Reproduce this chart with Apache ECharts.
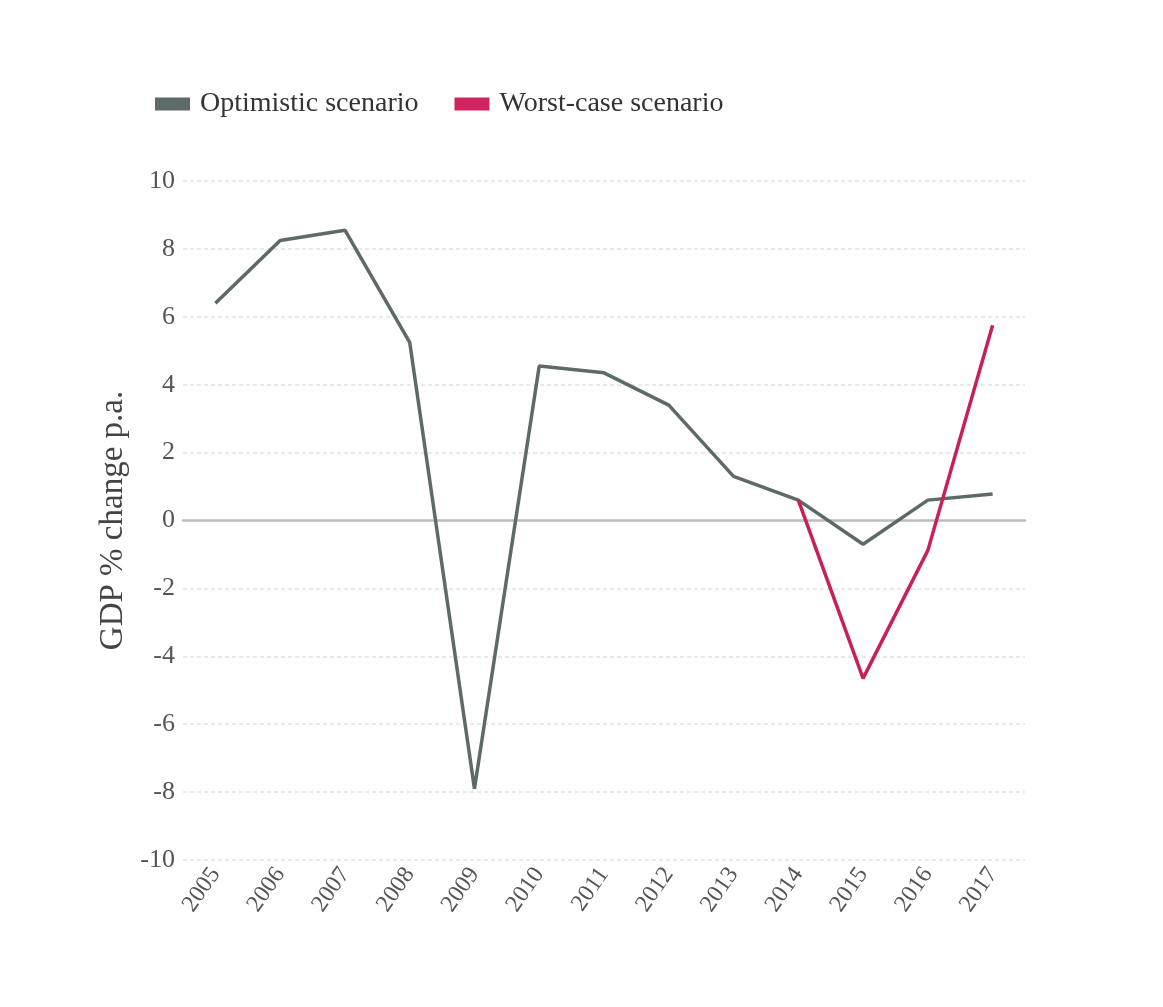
<!DOCTYPE html>
<html>
<head>
<meta charset="utf-8">
<script src="https://cdn.jsdelivr.net/npm/echarts@6/dist/echarts.min.js"></script>
<style>html,body{margin:0;padding:0;background:#fff;}#c{width:1163px;height:1007px;}</style>
</head>
<body>
<div id="c"></div>
<script>
const years = ['2005','2006','2007','2008','2009','2010','2011','2012','2013','2014','2015','2016','2017'];
const optimistic = [6.4, 8.25, 8.55, 5.25, -7.9, 4.55, 4.35, 3.4, 1.3, 0.6, -0.7, 0.6, 0.78];
const worstCase = [null, null, null, null, null, null, null, null, null, 0.6, -4.65, -0.88, 5.75];
const yTicks = {min: -10, max: 10, interval: 2};
const seriesNames = ['Optimistic scenario', 'Worst-case scenario'];

const font = 'Liberation Serif';
const chart = echarts.init(document.getElementById('c'));
chart.setOption({
  animation: false,
  backgroundColor: '#fff',
  legend: {
    left: 150, top: 85,
    itemWidth: 35, itemHeight: 13, itemGap: 36,
    icon: 'rect',
    textStyle: {fontFamily: font, fontSize: 28, color: '#333', padding: [0, 0, 0, 5]},
    data: seriesNames
  },
  grid: {left: 183, right: 138, top: 181, bottom: 147, containLabel: false},
  xAxis: [{
    type: 'category', data: years, boundaryGap: true,
    axisLine: {show: false, onZero: false}, axisTick: {show: false},
    axisLabel: {rotate: 55, margin: 10, fontFamily: font, fontSize: 24, color: '#555'}
  }, {
    type: 'category', data: years, boundaryGap: true, position: 'bottom',
    axisLine: {show: true, onZero: true, lineStyle: {color: '#bdbdbd', width: 2.5}},
    axisTick: {show: false}, axisLabel: {show: false}
  }],
  yAxis: {
    type: 'value', min: yTicks.min, max: yTicks.max, interval: yTicks.interval,
    name: 'GDP % change p.a.', nameLocation: 'middle', nameGap: 44,
    nameTextStyle: {fontFamily: font, fontSize: 33, color: '#444'},
    axisLine: {show: false}, axisTick: {show: false},
    axisLabel: {margin: 8, fontFamily: font, fontSize: 26, color: '#555'},
    splitLine: {lineStyle: {color: '#e2e2e2', type: [4, 3], width: 1.5}}
  },
  series: [{
    name: seriesNames[0], type: 'line', data: optimistic,
    showSymbol: false, symbol: 'none',
    lineStyle: {color: '#5d6b68', width: 3.5}, itemStyle: {color: '#5d6b68'}, z: 3
  }, {
    name: seriesNames[1], type: 'line', data: worstCase,
    showSymbol: false, symbol: 'none',
    lineStyle: {color: '#c8205a', width: 3.5}, itemStyle: {color: '#cf2560'}, z: 4
  }]
});
</script>
</body>
</html>
